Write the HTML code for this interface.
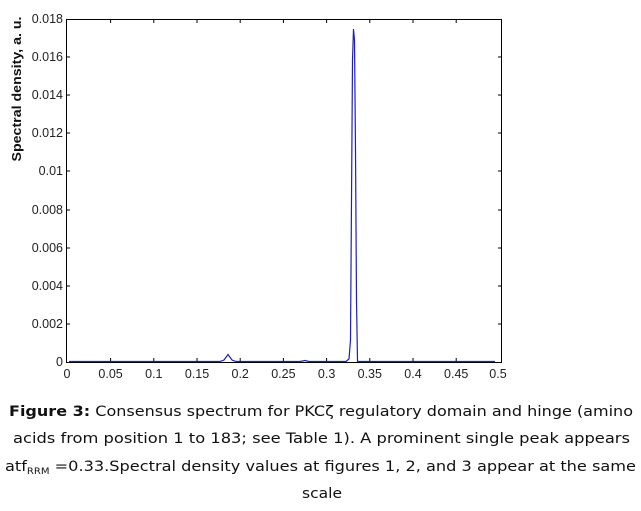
<!DOCTYPE html>
<html><head><meta charset="utf-8"><style>
body{margin:0;background:#fff;width:641px;height:511px;overflow:hidden}
svg{display:block}
</style></head><body>
<svg width="641" height="511" xmlns="http://www.w3.org/2000/svg" font-family="Liberation Sans, Arial, sans-serif">
<rect x="66.5" y="19.5" width="435" height="343" fill="none" stroke="#000" stroke-width="1"/>
<g stroke="#000" stroke-width="1">
<line x1="110.6" y1="362" x2="110.6" y2="358"/><line x1="110.6" y1="19" x2="110.6" y2="23"/>
<line x1="153.8" y1="362" x2="153.8" y2="358"/><line x1="153.8" y1="19" x2="153.8" y2="23"/>
<line x1="197" y1="362" x2="197" y2="358"/><line x1="197" y1="19" x2="197" y2="23"/>
<line x1="240.2" y1="362" x2="240.2" y2="358"/><line x1="240.2" y1="19" x2="240.2" y2="23"/>
<line x1="283.4" y1="362" x2="283.4" y2="358"/><line x1="283.4" y1="19" x2="283.4" y2="23"/>
<line x1="326.6" y1="362" x2="326.6" y2="358"/><line x1="326.6" y1="19" x2="326.6" y2="23"/>
<line x1="369.8" y1="362" x2="369.8" y2="358"/><line x1="369.8" y1="19" x2="369.8" y2="23"/>
<line x1="413" y1="362" x2="413" y2="358"/><line x1="413" y1="19" x2="413" y2="23"/>
<line x1="456.2" y1="362" x2="456.2" y2="358"/><line x1="456.2" y1="19" x2="456.2" y2="23"/>
<line x1="66" y1="324" x2="70" y2="324"/><line x1="502" y1="324" x2="498" y2="324"/>
<line x1="66" y1="286" x2="70" y2="286"/><line x1="502" y1="286" x2="498" y2="286"/>
<line x1="66" y1="248" x2="70" y2="248"/><line x1="502" y1="248" x2="498" y2="248"/>
<line x1="66" y1="210" x2="70" y2="210"/><line x1="502" y1="210" x2="498" y2="210"/>
<line x1="66" y1="171" x2="70" y2="171"/><line x1="502" y1="171" x2="498" y2="171"/>
<line x1="66" y1="133" x2="70" y2="133"/><line x1="502" y1="133" x2="498" y2="133"/>
<line x1="66" y1="95" x2="70" y2="95"/><line x1="502" y1="95" x2="498" y2="95"/>
<line x1="66" y1="57" x2="70" y2="57"/><line x1="502" y1="57" x2="498" y2="57"/>
</g>
<g font-size="12.5" fill="#222" text-anchor="middle">
<text x="67" y="378">0</text><text x="110.6" y="378">0.05</text><text x="153.8" y="378">0.1</text>
<text x="197" y="378">0.15</text><text x="240.2" y="378">0.2</text><text x="283.4" y="378">0.25</text>
<text x="326.6" y="378">0.3</text><text x="369.8" y="378">0.35</text><text x="413" y="378">0.4</text>
<text x="456.2" y="378">0.45</text><text x="498" y="378">0.5</text>
</g>
<g font-size="12.5" fill="#222" text-anchor="end">
<text x="63" y="366">0</text><text x="63" y="328">0.002</text><text x="63" y="290">0.004</text>
<text x="63" y="252">0.006</text><text x="63" y="214">0.008</text><text x="63" y="175">0.01</text>
<text x="63" y="137">0.012</text><text x="63" y="99">0.014</text><text x="63" y="61">0.016</text>
<text x="63" y="23">0.018</text>
</g>
<text transform="translate(21,89) rotate(-90)" font-size="13" font-weight="bold" text-anchor="middle" fill="#111" textLength="145" lengthAdjust="spacingAndGlyphs">Spectral density, a. u.</text>
<polyline fill="none" stroke="#2020b0" stroke-width="1.2" points="69,361.5 220,361.5 224,360 228,354.5 232,360 236,361.5 300,361.5 305,360.5 309,361.5 346,361.5 349,359 350.5,340 351.5,200 352.5,60 353.5,29 354.5,40 355.5,150 356.5,300 357.5,361.5 495,361.5"/>
<g font-family="DejaVu Sans, Verdana, sans-serif" font-size="14.5" fill="#111">
<text x="9" y="416" textLength="624" lengthAdjust="spacingAndGlyphs"><tspan font-weight="bold">Figure 3:</tspan> Consensus spectrum for PKCζ regulatory domain and hinge (amino</text>
<text x="13" y="443" textLength="617" lengthAdjust="spacingAndGlyphs">acids from position 1 to 183; see Table 1). A prominent single peak appears</text>
<text x="5" y="471" textLength="631" lengthAdjust="spacingAndGlyphs">atf<tspan font-size="9" dy="3">RRM</tspan><tspan dy="-3"> =0.33.Spectral density values at figures 1, 2, and 3 appear at the same</tspan></text>
<text x="302" y="498" textLength="40" lengthAdjust="spacingAndGlyphs">scale</text>
</g>
</svg>
</body></html>
